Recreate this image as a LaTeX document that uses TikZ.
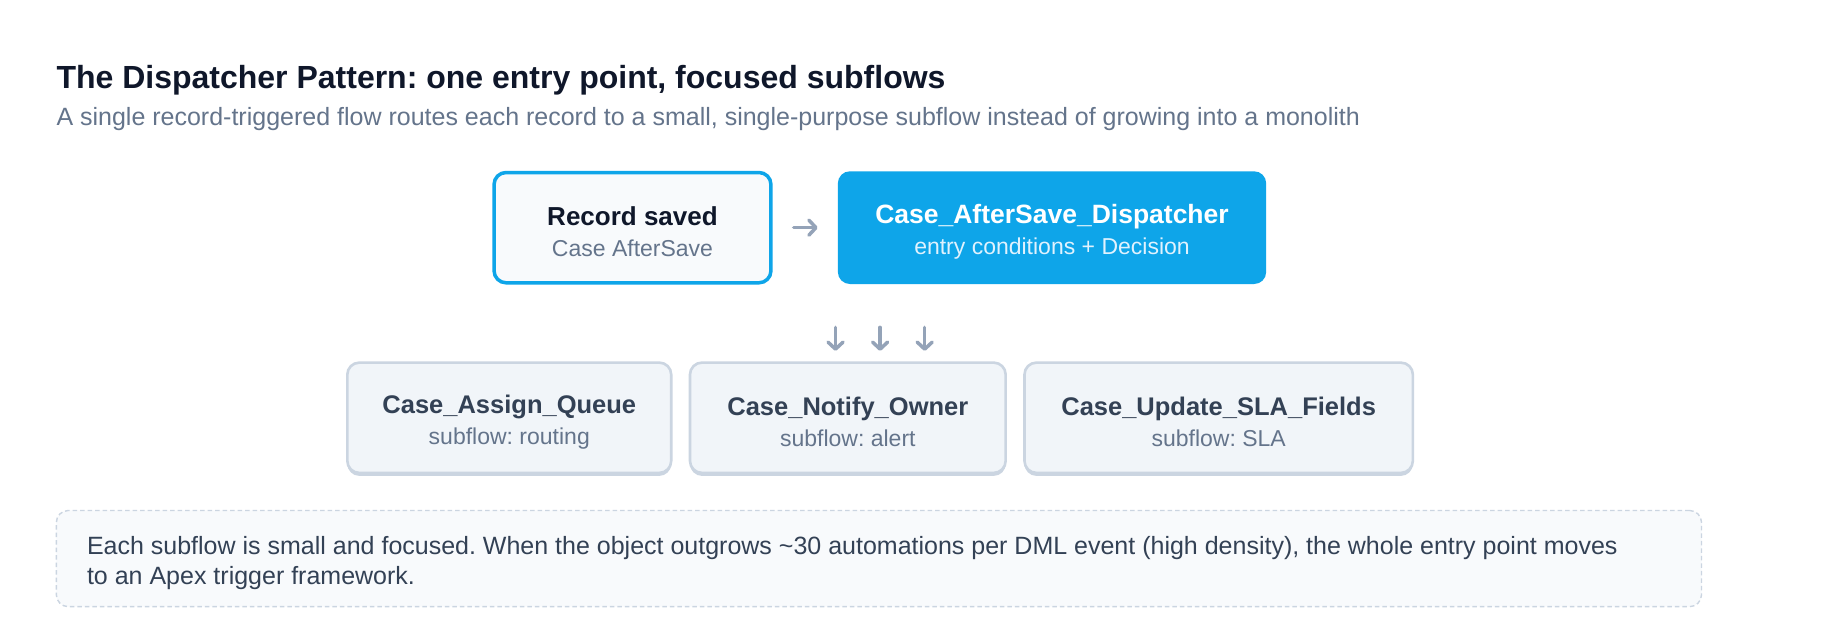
\documentclass[tikz,border=0pt]{standalone}
\usepackage{fontspec}
\setmainfont{Liberation Sans}
\usetikzlibrary{arrows.meta}
\definecolor{sky}{HTML}{0EA5E9}
\definecolor{skylight}{HTML}{E0F2FE}
\definecolor{arrowgray}{HTML}{94A3B8}
\definecolor{slateborder}{HTML}{CBD5E1}
\definecolor{paper}{HTML}{F8FAFC}
\definecolor{subfill}{HTML}{F1F5F9}
\definecolor{ink}{HTML}{0F172A}
\definecolor{muted}{HTML}{64748B}
\definecolor{body}{HTML}{334155}
\frenchspacing
\newcommand{\hdstrut}{\rule{0pt}{27pt}}
\begin{document}
\begin{tikzpicture}[x=1.1735pt,y=-1.1735pt,
  titletext/.style={font=\bfseries\fontsize{32}{38}\selectfont,text=ink,inner sep=0,anchor=base west},
  subtitletext/.style={font=\fontsize{25}{30}\selectfont,text=muted,inner sep=0,anchor=base west},
  boxfont/.style={font=\fontsize{23}{30.5}\selectfont,align=center,inner sep=0},
  recbox/.style={boxfont,draw=sky,line width=3.5pt,fill=paper,rounded corners=12pt,minimum width=276.9pt,minimum height=110.3pt},
  dispbox/.style={boxfont,fill=sky,rounded corners=12pt,minimum width=428.3pt,minimum height=112.7pt},
  subbox/.style={boxfont,draw=slateborder,line width=2.6pt,fill=subfill,rounded corners=12pt,minimum height=110.3pt,
     preaction={fill=slateborder,rounded corners=12pt,transform canvas={yshift=-3pt}}},
  notebox/.style={draw=slateborder,line width=1.4pt,dash pattern=on 4.5pt off 3pt,fill=paper,rounded corners=12pt,minimum width=1645.2pt,minimum height=96.2pt,inner sep=0},
  arr/.style={draw=arrowgray,line width=3.5pt,line cap=round,-{Straight Barb[length=7pt,width=15pt,line cap=round,line join=round]}}
]
\useasboundingbox[fill=white] (0,0) rectangle (1568,531.75);

\node[titletext] (title) at (48,75) {The Dispatcher Pattern: one entry point, focused subflows};
\node[subtitletext] (subtitle) at (48,107) {A single record-triggered flow routes each record to a small, single-purpose subflow instead of growing into a monolith};

\node[recbox] (rec) at (539,194) {{\hdstrut\bfseries\fontsize{26}{30.5}\selectfont\color{ink}Record saved}\\{\color{muted}Case AfterSave}};
\node[dispbox] (disp) at (896.5,194) {{\hdstrut\bfseries\fontsize{26.5}{30.5}\selectfont\color{white}Case\_AfterSave\_Dispatcher}\\{\color{skylight}entry conditions + Decision}};

\draw[arr] ([xshift=21pt]rec.east) -- ([xshift=-20pt]disp.west);

\node[subbox,minimum width=323.9pt] (q) at (434,356) {{\hdstrut\bfseries\fontsize{25.5}{30.5}\selectfont\color{body}Case\_Assign\_Queue}\\{\color{muted}subflow: routing}};
\node[subbox,minimum width=315.7pt] (n) at (722.5,356) {{\hdstrut\bfseries\fontsize{25.5}{30.5}\selectfont\color{body}Case\_Notify\_Owner}\\{\color{muted}subflow: alert}};
\node[subbox,minimum width=388.4pt] (s) at (1038.5,356) {{\hdstrut\bfseries\fontsize{25.5}{30.5}\selectfont\color{body}Case\_Update\_SLA\_Fields}\\{\color{muted}subflow: SLA}};

\coordinate (a1s) at (712,279); \coordinate (a1e) at (712,299);
\coordinate (a2s) at (750,279); \coordinate (a2e) at (750,299);
\coordinate (a3s) at (788,279); \coordinate (a3e) at (788,299);
\draw[arr] (a1s) -- (a1e);
\draw[arr] (a2s) -- (a2e);
\draw[arr] (a3s) -- (a3e);

\node[notebox] (note) at (749,476) {};
\node[font=\fontsize{25}{30}\selectfont,text=body,align=left,inner sep=0,anchor=north west] (notetext) at (74,457) {Each subflow is small and focused. When the object outgrows \textasciitilde30 automations per DML event (high density), the whole entry point moves\\to an Apex trigger framework.};
\end{tikzpicture}
\end{document}
